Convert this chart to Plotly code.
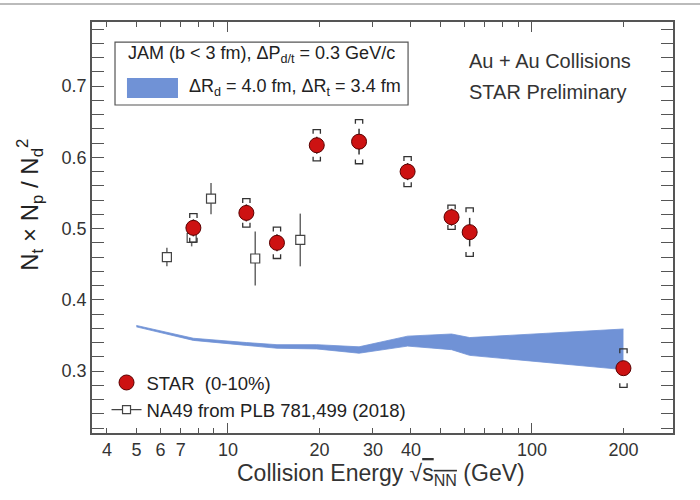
import numpy as np
import plotly.graph_objects as go

# ---------------- data ----------------
star_energy = [7.7, 11.5, 14.5, 19.6, 27, 39, 54.4, 62.4, 200]
star_ratio = [0.501, 0.522, 0.480, 0.617, 0.622, 0.580, 0.516, 0.495, 0.304]
star_stat = [0.012, 0.012, 0.012, 0.012, 0.018, 0.012, 0.012, 0.020, 0.006]
star_sys = [0.020, 0.020, 0.022, 0.022, 0.031, 0.021, 0.017, 0.034, 0.027]

na49_energy = [6.3, 7.6, 8.8, 12.3, 17.3]
na49_ratio = [0.460, 0.487, 0.542, 0.458, 0.484]
na49_err = [0.013, 0.012, 0.022, 0.038, 0.037]

jam_energy = [5.0, 7.7, 11.5, 14.5, 19.6, 27, 39, 54.4, 62.4, 200]
jam_upper = [0.364, 0.346, 0.340, 0.337, 0.337, 0.334, 0.349, 0.352, 0.347, 0.359]
jam_lower = [0.362, 0.343, 0.336, 0.332, 0.331, 0.325, 0.335, 0.330, 0.322, 0.302]

x_tickvals = [4, 5, 6, 7, 10, 20, 30, 40, 100, 200]
x_ticktext = ["4", "5", "6", "7", "10", "20", "30", "40", "100", "200"]
y_tickvals = [0.3, 0.4, 0.5, 0.6, 0.7]

FONT = "Liberation Sans, Arial, sans-serif"
BAND = "rgb(112,146,214)"
FRAME = "#555555"

# systematic brackets built from the data arrays
wfac = 10 ** 0.012
dcap = 0.006
bx, by = [], []
for e, r, s in zip(star_energy, star_ratio, star_sys):
    xl, xr = e / wfac, e * wfac
    top, bot = r + s, r - s
    bx += [xl, xl, xr, xr, None, xl, xl, xr, xr, None]
    by += [top - dcap, top, top, top - dcap, None, bot + dcap, bot, bot, bot + dcap, None]

fig = go.Figure()

# JAM band
fig.add_trace(go.Scatter(x=jam_energy, y=jam_lower, mode="lines",
                         line=dict(color=BAND, width=0.8), showlegend=False,
                         hoverinfo="skip"))
fig.add_trace(go.Scatter(x=jam_energy, y=jam_upper, mode="lines", fill="tonexty",
                         fillcolor=BAND, line=dict(color=BAND, width=0.8),
                         showlegend=False, hoverinfo="skip"))

# NA49
fig.add_trace(go.Scatter(x=na49_energy, y=na49_ratio, mode="markers",
                         marker=dict(symbol="square", size=9, color="white",
                                     line=dict(color="#444444", width=1.2)),
                         error_y=dict(type="data", array=na49_err, width=0,
                                      thickness=1.5, color="#666666"),
                         showlegend=False))

# STAR systematic brackets
fig.add_trace(go.Scatter(x=bx, y=by, mode="lines",
                         line=dict(color="#333333", width=1.3),
                         showlegend=False, hoverinfo="skip"))

# STAR points
fig.add_trace(go.Scatter(x=star_energy, y=star_ratio, mode="markers",
                         name="STAR  (0-10%)",
                         marker=dict(symbol="circle", size=15, color="rgb(205,18,18)",
                                     line=dict(color="rgb(90,0,0)", width=1)),
                         error_y=dict(type="data", array=star_stat, width=0,
                                      thickness=1.5, color="#333333")))

# legend-only NA49 entry (line through square)
fig.add_trace(go.Scatter(x=[None], y=[None], mode="lines+markers",
                         name="NA49 from PLB 781,499 (2018)",
                         line=dict(color="#444444", width=1.2),
                         marker=dict(symbol="square", size=8, color="white",
                                     line=dict(color="#444444", width=1.2))))

# long ticks at decades via overlay axis
fig.add_trace(go.Scatter(x=[None], y=[None], xaxis="x2", showlegend=False))

common_axis = dict(showline=True, linecolor=FRAME, linewidth=1.5, mirror="allticks",
                   ticks="inside", tickcolor=FRAME, showgrid=False, zeroline=False)

fig.update_layout(
    width=700, height=500,
    margin=dict(l=92, r=27, t=22, b=67),
    paper_bgcolor="white", plot_bgcolor="white",
    font=dict(family=FONT, size=18, color="#333333"),
    xaxis=dict(type="log", range=[0.553, 2.464], tickvals=x_tickvals, ticktext=x_ticktext,
               ticklen=5, tickwidth=1.2,
               minor=dict(dtick="D1", ticks="inside", ticklen=5, tickcolor=FRAME, tickwidth=1.2),
               tickfont=dict(size=18, color="#333333"), **common_axis),
    xaxis2=dict(type="log", range=[0.553, 2.464], overlaying="x", side="bottom",
                tickvals=[10, 100], ticklen=10, tickwidth=1.2, showticklabels=False,
                showline=False, mirror="allticks", ticks="inside", tickcolor=FRAME,
                showgrid=False, zeroline=False),
    yaxis=dict(range=[0.213, 0.790], tickvals=y_tickvals, ticklen=12, tickwidth=1.2,
               tickformat=".1f",
               minor=dict(dtick=0.02, ticks="inside", ticklen=6, tickcolor=FRAME, tickwidth=1.2),
               tickfont=dict(size=18, color="#333333"), **common_axis),
    legend=dict(x=0.025, y=0.168, xanchor="left", yanchor="top", traceorder="normal",
                bgcolor="rgba(0,0,0,0)", font=dict(size=18.5, color="#222222"),
                itemwidth=30, tracegroupgap=0),
    showlegend=True,
)

# top grey page line
fig.add_shape(type="line", xref="paper", yref="paper", x0=-0.16, x1=1.05,
              y0=1.0438, y1=1.0438, line=dict(color="#bbbbbb", width=2))

# JAM legend box
fig.add_shape(type="rect", xref="paper", yref="paper", x0=0.0396, x1=0.544,
              y0=0.798, y1=0.951, line=dict(color="#555555", width=1.2),
              fillcolor="white")
fig.add_shape(type="rect", xref="paper", yref="paper", x0=0.0602, x1=0.148,
              y0=0.815, y1=0.864, line=dict(width=0), fillcolor=BAND)
fig.add_annotation(xref="paper", yref="paper", x=0.058, y=0.92, xanchor="left",
                   yanchor="middle", showarrow=False,
                   text="JAM (b &lt; 3 fm), ΔP<sub>d/t</sub> = 0.3 GeV/c",
                   font=dict(size=18, color="#222222"))
fig.add_annotation(xref="paper", yref="paper", x=0.163, y=0.84, xanchor="left",
                   yanchor="middle", showarrow=False,
                   text="ΔR<sub>d</sub> = 4.0 fm, ΔR<sub>t</sub> = 3.4 fm",
                   font=dict(size=18, color="#222222"))

# top-right labels
fig.add_annotation(xref="paper", yref="paper", x=0.645, y=0.905, xanchor="left",
                   yanchor="middle", showarrow=False, text="Au + Au Collisions",
                   font=dict(size=20, color="#333333"))
fig.add_annotation(xref="paper", yref="paper", x=0.645, y=0.83, xanchor="left",
                   yanchor="middle", showarrow=False, text="STAR Preliminary",
                   font=dict(size=20, color="#333333"))

# axis titles
fig.add_annotation(xref="paper", yref="paper", x=-0.107, y=0.555, xanchor="center",
                   yanchor="middle", showarrow=False, textangle=-90,
                   text="N<sub>t</sub> × N<sub>p</sub> / N<sub>d</sub><sup>2</sup>",
                   font=dict(size=24, color="#222222"))
fig.add_annotation(xref="paper", yref="paper", x=0.497, y=-0.102, xanchor="center",
                   yanchor="middle", showarrow=False,
                   text="Collision Energy √<span style='text-decoration:overline'>s<sub>NN</sub></span> (GeV)",
                   font=dict(size=23, color="#333333"))

fig.write_html("out.html")
